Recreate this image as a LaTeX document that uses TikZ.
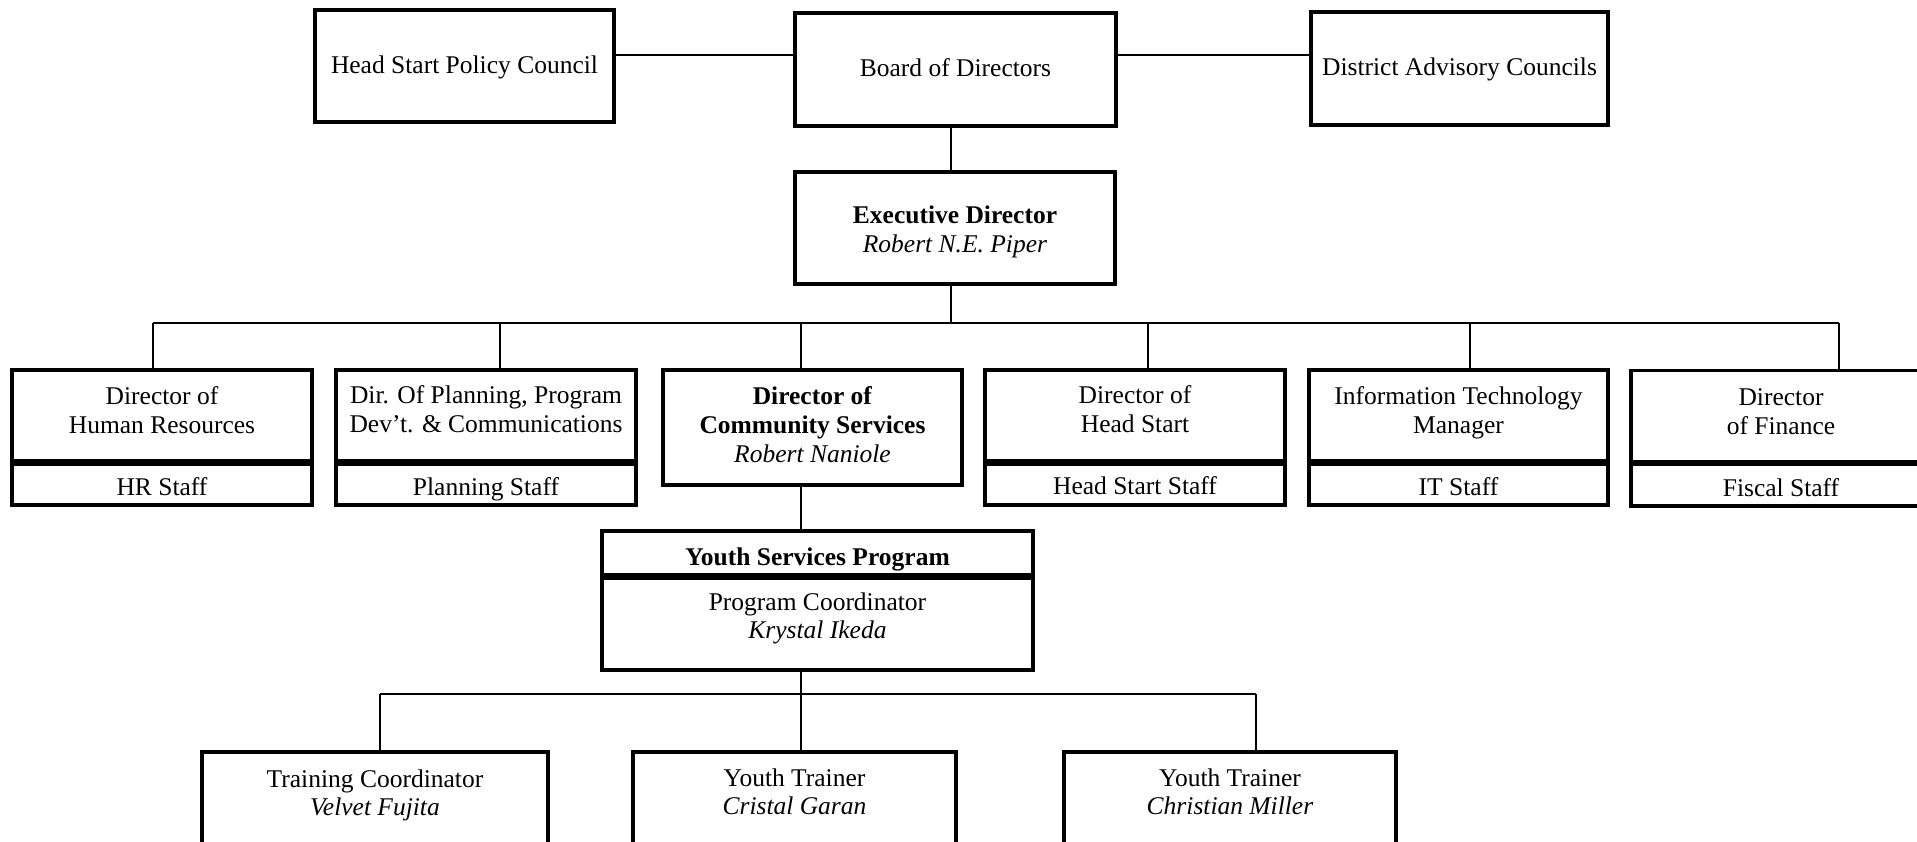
\documentclass[tikz,border=0pt]{standalone}
\usepackage{fontspec}
\setmainfont{Liberation Serif}
\newcommand\fsz{\fontsize{25.5}{29}\selectfont}
\begin{document}
\begin{tikzpicture}[x=1pt,y=-1pt,
  box/.style={draw, line width=3.8pt, inner sep=0pt},
  txt/.style={inner sep=0pt, anchor=base, font=\fsz},
  conn/.style={line width=2pt},
  divline/.style={line width=6pt}]
\useasboundingbox (0,0) rectangle (1917,841);
\fill[white] (0,0) rectangle (1917,841);
\clip (0,0) rectangle (1917,841);
% top row
\node[box, minimum width=299pt, minimum height=112pt] (hspc) at (464.5,66) {};
\node[txt] (hspct) at (464.5,73) {Head Start Policy Council};
\node[box, minimum width=321pt, minimum height=113pt] (board) at (955.5,69.5) {};
\node[txt] (boardt) at (955.5,76.5) {Board of Directors};
\node[box, minimum width=297pt, minimum height=113pt] (dac) at (1459.5,68.5) {};
\node[txt] (dact) at (1459.5,75) {District Advisory Councils};
\node[box, minimum width=320pt, minimum height=112pt] (exec) at (955,228) {};
\node[txt] (exect1) at (955,223) {\textbf{Executive Director}};
\node[txt] (exect2) at (955,252) {\textit{Robert N.E. Piper}};
\coordinate (topline) at (0,54.5);
\coordinate (spine) at (951,0);
\draw[conn] (hspc.east |- topline) -- (board.west |- topline);
\draw[conn] (board.east |- topline) -- (dac.west |- topline);
\draw[conn] (board.south -| spine) -- (exec.north -| spine);
% second row
\node[box, minimum width=300pt, minimum height=91pt] (hr) at (162,415.5) {};
\node[box, minimum width=300pt, minimum height=44pt] (hrs) at (162,483) {};
\node[txt] (hrt1) at (162,404) {Director of};
\node[txt] (hrt2) at (162,433) {Human Resources};
\node[txt] (hrst) at (162,495) {HR Staff};
\node[box, minimum width=300pt, minimum height=91pt] (plan) at (486,415.5) {};
\node[box, minimum width=300pt, minimum height=44pt] (plans) at (486,483) {};
\node[txt] (plant1) at (486,403) {Dir. Of Planning, Program};
\node[txt] (plant2) at (486,432) {Dev't. \& Communications};
\node[txt] (planst) at (486,495) {Planning Staff};
\node[box, minimum width=299pt, minimum height=115pt] (comm) at (812.5,427.5) {};
\node[txt] (commt1) at (812.5,404) {\textbf{Director of}};
\node[txt] (commt2) at (812.5,433) {\textbf{Community Services}};
\node[txt] (commt3) at (812.5,462) {\textit{Robert Naniole}};
\node[box, minimum width=300pt, minimum height=91pt] (hs) at (1135,415.5) {};
\node[box, minimum width=300pt, minimum height=44pt] (hss) at (1135,483) {};
\node[txt] (hst1) at (1135,403) {Director of};
\node[txt] (hst2) at (1135,432) {Head Start};
\node[txt] (hsst) at (1135,494) {Head Start Staff};
\node[box, minimum width=299pt, minimum height=91pt] (it) at (1458.5,415.5) {};
\node[box, minimum width=299pt, minimum height=44pt] (its) at (1458.5,483) {};
\node[txt] (itt1) at (1458.5,404) {Information Technology};
\node[txt] (itt2) at (1458.5,433) {Manager};
\node[txt] (itst) at (1458.5,495) {IT Staff};
\node[box, minimum width=300pt, minimum height=91pt] (fin) at (1781,416) {};
\node[box, minimum width=300pt, minimum height=44pt] (fins) at (1781,484) {};
\node[txt] (fint1) at (1781,405) {Director};
\node[txt] (fint2) at (1781,434) {of Finance};
\node[txt] (finst) at (1781,496) {Fiscal Staff};
\foreach \n in {hr,plan,hs,it,fin}
  \draw[divline] (\n.south west) -- (\n.south east);
% bus 1
\coordinate (busl) at (153,323);
\coordinate (busr) at (1839,323);
\draw[conn] (exec.south -| spine) -- (busl -| spine);
\draw[conn] (busl) -- (busr);
\foreach \x/\n in {153/hr,500/plan,801/comm,1148/hs,1470/it,1839/fin}
  \draw[conn] (\x,323) -- (\n.north -| \x,0);
% youth services
\node[box, minimum width=431pt, minimum height=44pt] (ysp) at (817.5,553) {};
\node[box, minimum width=431pt, minimum height=95pt] (pc) at (817.5,622.5) {};
\node[txt] (yspt) at (817.5,565) {\textbf{Youth Services Program}};
\node[txt] (pct1) at (817.5,610) {Program Coordinator};
\node[txt] (pct2) at (817.5,638) {\textit{Krystal Ikeda}};
\draw[divline] (ysp.south west) -- (ysp.south east);
\draw[conn] (comm.south -| 801,0) -- (ysp.north -| 801,0);
% bottom row
\node[box, minimum width=346pt, minimum height=118pt] (tc) at (375,811) {};
\node[box, minimum width=323pt, minimum height=118pt] (yt1) at (794.5,811) {};
\node[box, minimum width=332pt, minimum height=118pt] (yt2) at (1230,811) {};
\node[txt] (tct1) at (375,787) {Training Coordinator};
\node[txt] (tct2) at (375,815) {\textit{Velvet Fujita}};
\node[txt] (yt1t1) at (794.5,786) {Youth Trainer};
\node[txt] (yt1t2) at (794.5,814) {\textit{Cristal Garan}};
\node[txt] (yt2t1) at (1230,786) {Youth Trainer};
\node[txt] (yt2t2) at (1230,814) {\textit{Christian Miller}};
\coordinate (bus2l) at (380,694);
\coordinate (bus2r) at (1256,694);
\draw[conn] (pc.south -| 801,0) -- (yt1.north -| 801,0);
\draw[conn] (bus2l) -- (bus2r);
\draw[conn] (bus2l) -- (tc.north -| bus2l);
\draw[conn] (bus2r) -- (yt2.north -| bus2r);
\end{tikzpicture}
\end{document}
